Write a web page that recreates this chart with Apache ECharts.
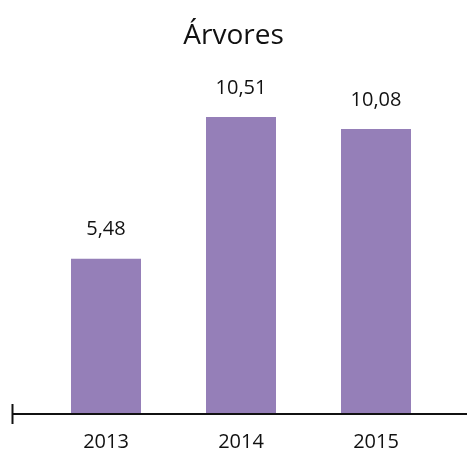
<!DOCTYPE html>
<html><head><meta charset="utf-8">
<script src="https://cdn.jsdelivr.net/npm/echarts@6/dist/echarts.min.js"></script>
<style>html,body{margin:0;padding:0;background:#fff}#c{width:467px;height:452px}</style>
</head><body><div id="c"></div>
<script>
const categories = ['2013', '2014', '2015'];
const values = [5.48, 10.51, 10.08];
const titleText = 'Árvores';

const chart = echarts.init(document.getElementById('c'));
const FONT = '"Open Sans", "Noto Sans", sans-serif';
chart.setOption({
  animation: false,
  title: { text: titleText, left: 'center', top: 17, textStyle: { fontFamily: FONT, fontSize: 28, fontWeight: 'normal', color: '#111' } },
  grid: { left: 38.5, width: 405, top: 75, bottom: 37 },
  xAxis: {
    type: 'category', data: categories,
    axisLine: { show: false }, axisTick: { show: false },
    axisLabel: { fontFamily: FONT, fontSize: 20, color: '#111', margin: 19 }
  },
  yAxis: { type: 'value', min: 0, max: 12, show: false, splitLine: { show: false } },
  series: [{
    type: 'bar', data: values, barWidth: 70,
    itemStyle: { color: '#957FB8' },
    label: { show: true, position: 'top', distance: 19, fontFamily: FONT, fontSize: 20, color: '#111',
      formatter: p => p.value.toFixed(2).replace('.', ',') }
  }],
  graphic: [
    { type: 'line', shape: { x1: 12, y1: 414, x2: 467, y2: 414 }, style: { stroke: '#111', lineWidth: 2 } },
    { type: 'line', shape: { x1: 12.5, y1: 404, x2: 12.5, y2: 424 }, style: { stroke: '#111', lineWidth: 2 } }
  ]
});
</script></body></html>
